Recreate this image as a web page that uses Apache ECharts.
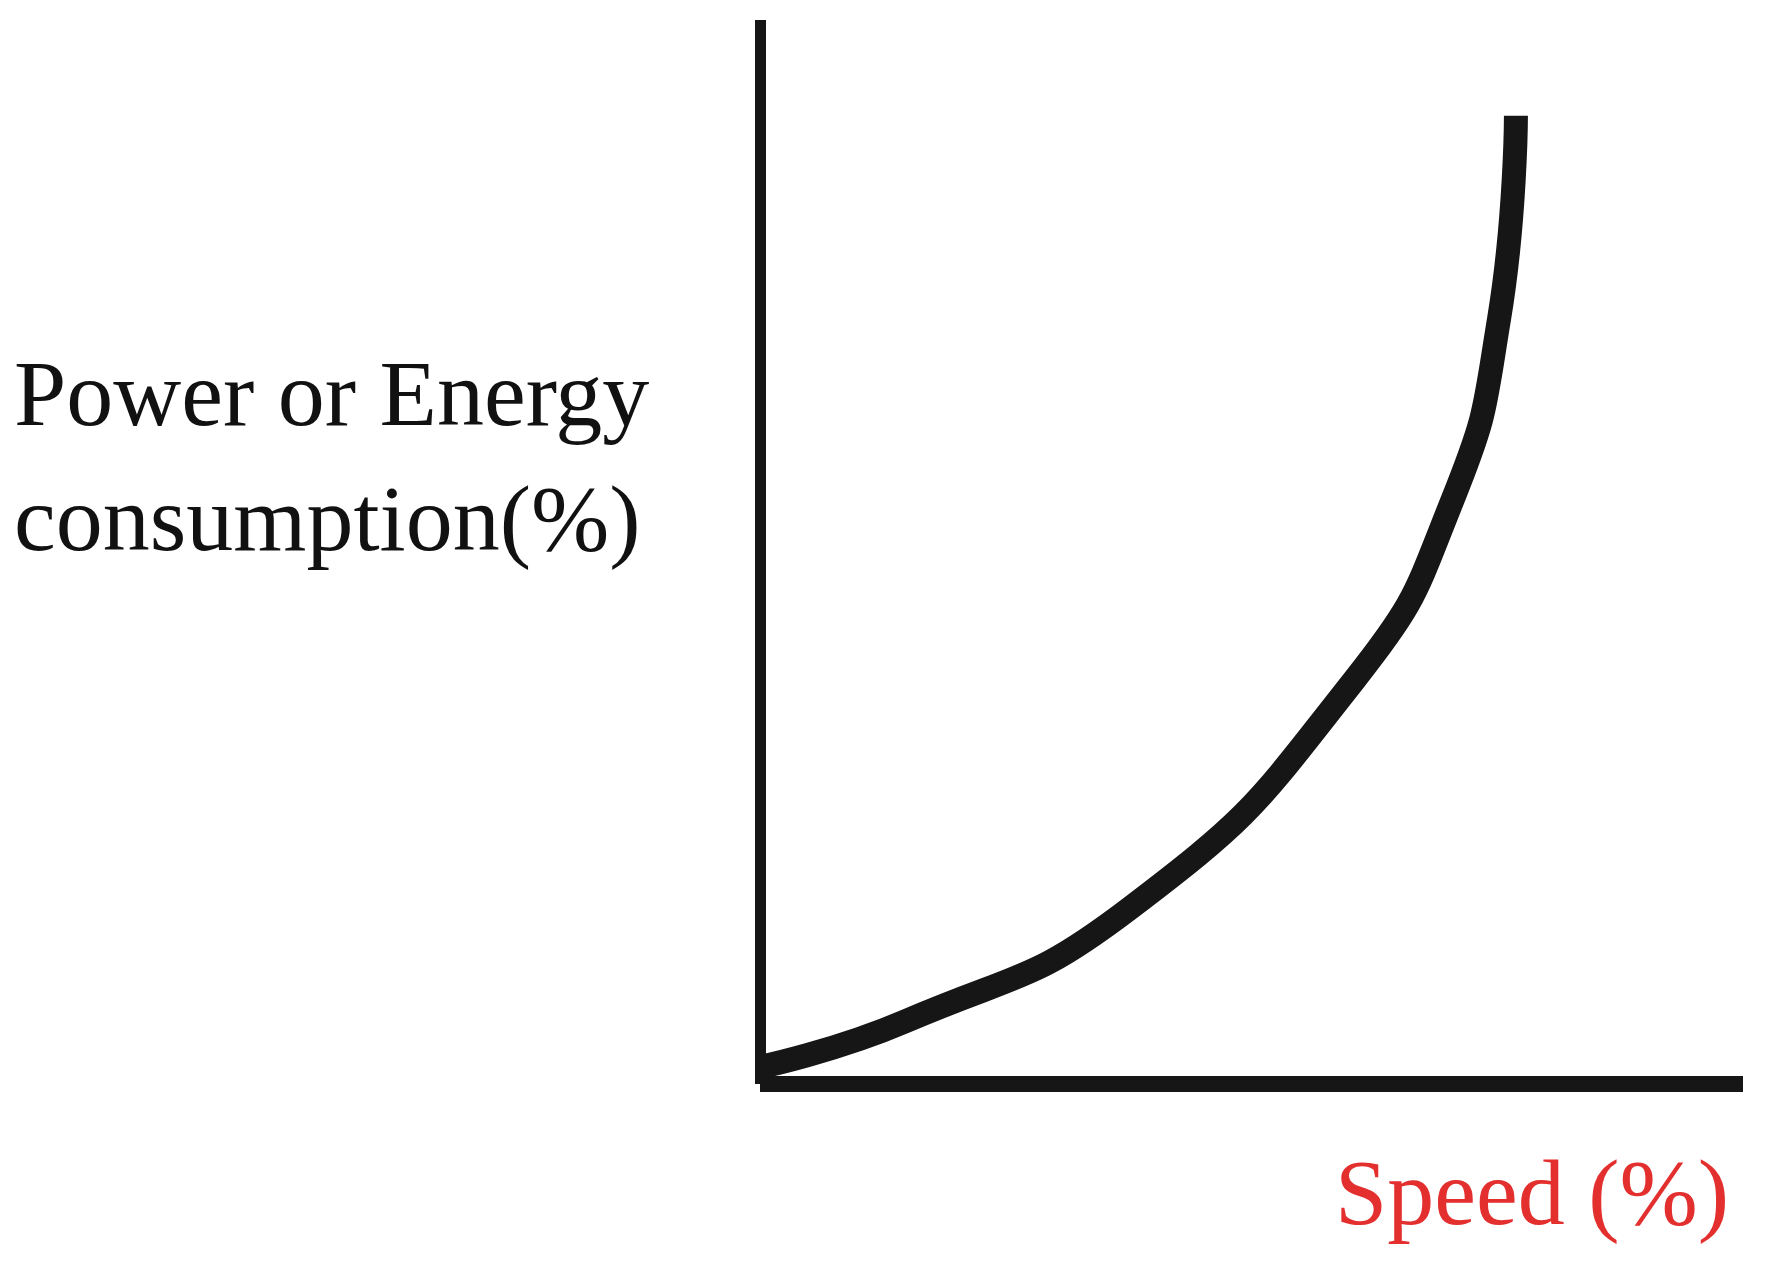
<!DOCTYPE html>
<html lang="en">
<head>
<meta charset="UTF-8" />
<title>Power vs Speed</title>
<script src="https://cdn.jsdelivr.net/npm/echarts@6/dist/echarts.min.js"></script>
<style>
  * { margin: 0; padding: 0; }
  #chart { width: 1771px; height: 1269px; background: #fff; }
</style>
</head>
<body>
<div id="chart"></div>
<script>
  // curve, axes in percent
  const speed = [0, 14.8, 37.6, 60.4, 70.5, 75.2, 76.9];
  const power = [1.6, 5.9, 16.5, 37.9, 55, 72, 91];
  const yLabel = 'Power or Energy\nconsumption(%)';
  const xLabel = 'Speed (%)';

  const chart = echarts.init(document.getElementById('chart'));
  chart.setOption({
    animation: false,
    grid: { left: 760, right: 28, top: 20, bottom: 185 },
    xAxis: {
      type: 'value', min: 0, max: 100,
      axisLine: { onZero: false, lineStyle: { color: '#161616', width: 16, cap: 'butt' } },
      axisTick: { show: false }, axisLabel: { show: false }, splitLine: { show: false }
    },
    yAxis: {
      type: 'value', min: 0, max: 100,
      axisLine: { show: true, lineStyle: { color: '#161616', width: 11, cap: 'butt' } },
      axisTick: { show: false }, axisLabel: { show: false }, splitLine: { show: false }
    },
    graphic: [
      { type: 'text', left: 14, top: 338, style: {
          text: yLabel, font: '94px "Liberation Serif"', fill: '#111', lineHeight: 125 } },
      { type: 'text', left: 1335, top: 1152, style: {
          text: xLabel, font: '94px "Liberation Serif"', fill: '#e3302e' } }
    ],
    series: [{
      type: 'line', smooth: 0.5, symbol: 'none',
      data: speed.map((s, i) => [s, power[i]]),
      lineStyle: { color: '#161616', width: 24 }
    }]
  });
</script>
</body>
</html>
